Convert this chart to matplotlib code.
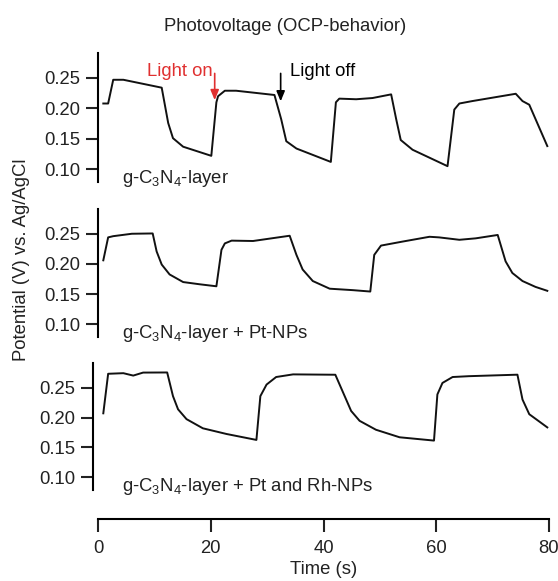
import matplotlib
matplotlib.use("Agg")
import matplotlib.pyplot as plt

plt.rcParams['font.family'] = ['Liberation Sans', 'DejaVu Sans']
plt.rcParams['mathtext.fontset'] = 'custom'
plt.rcParams['mathtext.rm'] = 'Liberation Sans'
plt.rcParams['mathtext.default'] = 'regular'

# Open-circuit potential traces under chopped illumination
t_layer = [0.94, 1.8, 2.7, 4.5, 11.3, 12.45, 13.3, 15.1, 20.1, 21.0, 21.3, 22.5, 24.5,
           31.3, 32.5, 33.4, 35.2, 41.3, 42.2, 42.8, 45.8, 48.7, 52.0, 52.9, 53.7,
           55.8, 62.0, 63.2, 64.1, 66.4, 74.1, 75.3, 76.5, 79.7]
v_layer = [0.208, 0.208, 0.247, 0.247, 0.234, 0.176, 0.151, 0.137, 0.122, 0.210, 0.220,
           0.229, 0.229, 0.222, 0.182, 0.146, 0.134, 0.112, 0.210, 0.216, 0.215, 0.217,
           0.223, 0.182, 0.148, 0.132, 0.105, 0.198, 0.208, 0.212, 0.224, 0.212, 0.206,
           0.138]

t_pt = [0.94, 1.8, 2.7, 6.0, 9.7, 10.4, 11.3, 12.7, 15.1, 18.05, 21.0, 21.9, 22.5, 23.7,
        27.5, 31.6, 34.0, 35.2, 36.3, 38.1, 41.1, 45.2, 48.3, 49.0, 50.2, 54.0, 58.8,
        60.5, 64.1, 67.0, 70.9, 72.3, 73.5, 75.3, 77.6, 79.7]
v_pt = [0.206, 0.244, 0.246, 0.250, 0.2505, 0.2207, 0.199, 0.1826, 0.170, 0.1663, 0.163,
        0.2234, 0.234, 0.2386, 0.238, 0.2435, 0.2467, 0.215, 0.1908, 0.1717, 0.159,
        0.1566, 0.1543, 0.215, 0.2304, 0.237, 0.245, 0.244, 0.240, 0.2424, 0.248, 0.2043,
        0.185, 0.1717, 0.162, 0.1555]

t_ptrh = [0.94, 1.8, 4.5, 6.25, 8.0, 12.27, 13.3, 14.2, 15.7, 18.6, 22.8, 28.1, 28.8,
          29.9, 31.6, 34.6, 42.1, 44.9, 46.4, 49.3, 53.5, 59.6, 60.2, 61.1, 62.9, 65.8,
          74.4, 75.3, 76.5, 79.7]
v_ptrh = [0.207, 0.273, 0.274, 0.270, 0.275, 0.2752, 0.2357, 0.2137, 0.1973, 0.182,
          0.1725, 0.1626, 0.2357, 0.255, 0.2676, 0.272, 0.2714, 0.211, 0.1945, 0.1796,
          0.167, 0.1615, 0.2385, 0.2577, 0.2676, 0.269, 0.2715, 0.230, 0.2055, 0.1835]

series = [
    (t_layer, v_layer, r'g-C$_3$N$_4$-layer'),
    (t_pt, v_pt, r'g-C$_3$N$_4$-layer + Pt-NPs'),
    (t_ptrh, v_ptrh, r'g-C$_3$N$_4$-layer + Pt and Rh-NPs'),
]

y_ticks = [0.10, 0.15, 0.20, 0.25]
y_tick_labels = ['0.10', '0.15', '0.20', '0.25']
x_ticks = [0, 20, 40, 60, 80]

light_on_t, light_off_t = 20.7, 32.4

W, H = 558, 581
fig = plt.figure(figsize=(W / 100, H / 100), dpi=100)

# panel extents in pixels: (top, bottom)
panels_px = [(53, 182), (209, 337), (363, 490)]
left_px, right_px = 98, 549

fs = 13.3
axes = []
for i, ((t, v, label), (top, bot)) in enumerate(zip(series, panels_px)):
    ax = fig.add_axes([left_px / W, 1 - bot / H, (right_px - left_px) / W, (bot - top) / H])
    ax.plot(t, v, color='#111111', lw=1.4, solid_joinstyle='round')
    ax.set_xlim(0, 80)
    ax.set_ylim(0.079, 0.291)
    for s in ['top', 'right']:
        ax.spines[s].set_visible(False)
    ax.spines['left'].set_linewidth(1.5)
    ax.set_yticks(y_ticks)
    ax.set_yticklabels(y_tick_labels)
    ax.tick_params(axis='y', direction='out', length=9, width=1.5, pad=3.5,
                   labelsize=fs, colors='#222222')
    if i < 2:
        ax.spines['bottom'].set_visible(False)
        ax.set_xticks([])
    else:
        ax.spines['left'].set_position(('outward', 3.6))
        ax.spines['bottom'].set_position(('outward', 21))
        ax.spines['bottom'].set_linewidth(1.5)
        ax.set_xticks(x_ticks)
        ax.tick_params(axis='x', direction='out', length=9, width=1.5, pad=6,
                       labelsize=fs, colors='#222222')
        ax.set_xlabel('Time (s)', fontsize=fs, color='#222222', labelpad=3)
    ax.patch.set_visible(False)
    ax.text(4.3, 0.0775, label, fontsize=fs, ha='left', va='baseline', color='#222222')
    axes.append(ax)

ax0 = axes[0]
ax0.annotate('', xy=(light_on_t, 0.209), xytext=(light_on_t, 0.262),
             arrowprops=dict(arrowstyle='-|>,head_width=0.25,head_length=0.6',
                             color='#e03030', lw=1.2))
ax0.text(light_on_t - 0.3, 0.253, 'Light on', color='#e03030', fontsize=fs,
         ha='right', va='baseline')
ax0.annotate('', xy=(light_off_t, 0.207), xytext=(light_off_t, 0.262),
             arrowprops=dict(arrowstyle='-|>,head_width=0.25,head_length=0.6',
                             color='black', lw=1.2))
ax0.text(light_off_t + 1.6, 0.253, 'Light off', color='black', fontsize=fs,
         ha='left', va='baseline')

fig.text(285 / W, 1 - 31 / H, 'Photovoltage (OCP-behavior)', fontsize=fs,
         ha='center', va='baseline', color='#222222')
fig.text(22 / W, 1 - 260 / H, 'Potential (V) vs. Ag/AgCl', fontsize=fs,
         rotation=90, ha='center', va='center', color='#222222')

fig.savefig('out.png', dpi=100)
